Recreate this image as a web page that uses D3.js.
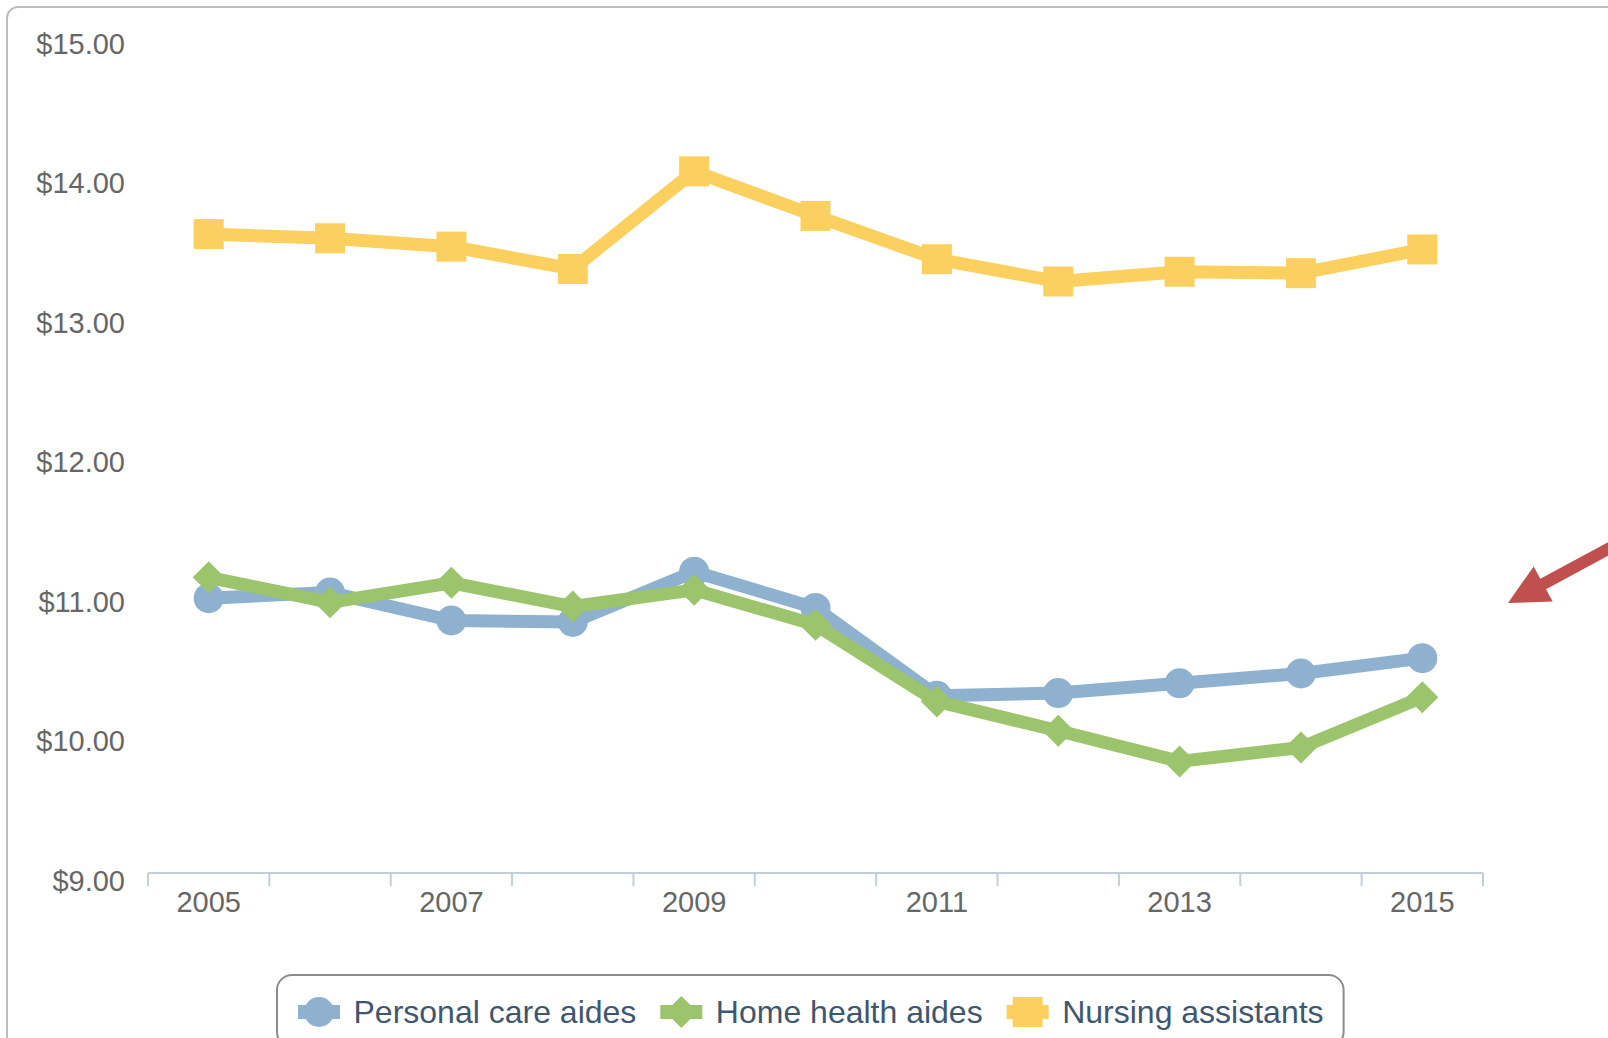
<!DOCTYPE html>
<html>
<head>
<meta charset="utf-8">
<script src="https://cdn.jsdelivr.net/npm/d3@7"></script>
<style>
  html, body { margin: 0; padding: 0; background: #ffffff; }
  svg { display: block; font-family: "Liberation Sans", Arial, sans-serif; }
</style>
</head>
<body>
<svg id="chart" width="1608" height="1038"></svg>
<script>
// Median hourly wages of direct care workers, 2005-2015
const years = [2005, 2006, 2007, 2008, 2009, 2010, 2011, 2012, 2013, 2014, 2015];
const personalCareAides = [10.97, 11.01, 10.81, 10.80, 11.16, 10.90, 10.27, 10.29, 10.36, 10.43, 10.54];
const homeHealthAides   = [11.12, 10.94, 11.08, 10.91, 11.03, 10.78, 10.23, 10.02, 9.80, 9.90, 10.26];
const nursingAssistants = [13.58, 13.55, 13.49, 13.33, 14.03, 13.71, 13.40, 13.24, 13.31, 13.30, 13.47];
const seriesNames = ["Personal care aides", "Home health aides", "Nursing assistants"];
const yTickValues = [9, 10, 11, 12, 13, 14, 15];
const xLabelYears = [2005, 2007, 2009, 2011, 2013, 2015];

const seriesColors = ["#8eb1d0", "#9cc46c", "#fcd05e"];
const seriesSymbols = ["circle", "diamond", "square"];
const seriesValues = [personalCareAides, homeHealthAides, nursingAssistants];

const series = seriesNames.map((name, i) => ({
  name,
  color: seriesColors[i],
  symbol: seriesSymbols[i],
  points: years.map((yr, j) => ({ year: yr, value: seriesValues[i][j] }))
}));

const svg = d3.select("#chart");

// outer frame (continues past the right and bottom edges)
svg.append("rect")
  .attr("x", 7).attr("y", 7)
  .attr("width", 1660).attr("height", 1100)
  .attr("rx", 11)
  .attr("fill", "#ffffff")
  .attr("stroke", "#bdbdbd")
  .attr("stroke-width", 2);

const plotLeft = 148, plotRight = 1483, plotTop = 36, plotBottom = 873;

const x = d3.scaleBand().domain(years).range([plotLeft, plotRight]);
const cx = yr => x(yr) + x.bandwidth() / 2;
const y = d3.scaleLinear().domain([9, 15]).range([plotBottom, plotTop]);

// y axis labels
const yAxis = d3.axisLeft(y)
  .tickValues(yTickValues)
  .tickSize(0)
  .tickPadding(0)
  .tickFormat(v => "$" + v.toFixed(2));
const yg = svg.append("g").attr("transform", "translate(125,0)").call(yAxis);
yg.select(".domain").remove();
yg.selectAll("text")
  .attr("fill", "#666666")
  .attr("font-size", 29)
  .attr("font-family", "'Liberation Sans', Arial, sans-serif")
  .attr("dy", "0.6em");

// x axis line, tick marks between categories, labels on alternate years
const xg = svg.append("g");
xg.append("line")
  .attr("x1", plotLeft).attr("x2", plotRight)
  .attr("y1", plotBottom).attr("y2", plotBottom)
  .attr("stroke", "#c3cedb").attr("stroke-width", 2);
const boundaries = years.map(yr => x(yr)).concat([x(years[years.length - 1]) + x.bandwidth()]);
xg.selectAll(".tickmark").data(boundaries).join("line")
  .attr("class", "tickmark")
  .attr("x1", d => d).attr("x2", d => d)
  .attr("y1", plotBottom).attr("y2", plotBottom + 13)
  .attr("stroke", "#c3cedb").attr("stroke-width", 2);

const xAxis = d3.axisBottom(x).tickValues(xLabelYears).tickSize(0).tickPadding(0);
const xa = svg.append("g").attr("transform", `translate(0,${plotBottom})`).call(xAxis);
xa.select(".domain").remove();
xa.selectAll("text")
  .attr("fill", "#666666")
  .attr("font-size", 29)
  .attr("font-family", "'Liberation Sans', Arial, sans-serif")
  .attr("dy", "1.35em");

// marker shapes
function symbolPath(type, px, py) {
  if (type === "circle") {
    const r = 15;
    return `M${px - r},${py}a${r},${r} 0 1,0 ${2 * r},0a${r},${r} 0 1,0 ${-2 * r},0Z`;
  }
  if (type === "square") {
    const h = 15;
    return `M${px - h},${py - h}H${px + h}V${py + h}H${px - h}Z`;
  }
  const r = 16;
  return `M${px},${py - r}L${px + r},${py}L${px},${py + r}L${px - r},${py}Z`;
}

const line = d3.line().x(d => cx(d.year)).y(d => y(d.value));

series.forEach(s => {
  const g = svg.append("g").attr("class", "series");
  g.append("path")
    .datum(s.points)
    .attr("d", line)
    .attr("fill", "none")
    .attr("stroke", s.color)
    .attr("stroke-width", 13)
    .attr("stroke-linejoin", "round")
    .attr("stroke-linecap", "round");
  g.selectAll(".marker").data(s.points).join("path")
    .attr("class", "marker")
    .attr("d", d => symbolPath(s.symbol, cx(d.year), y(d.value)))
    .attr("fill", s.color);
});

// legend
const legendX = 277, legendY = 975, legendMidY = 1012;
const legend = svg.append("g");
const legendBox = legend.append("rect")
  .attr("x", legendX).attr("y", legendY)
  .attr("height", 72).attr("rx", 15)
  .attr("fill", "#ffffff")
  .attr("stroke", "#8c8c8c")
  .attr("stroke-width", 2);

const itemGap = 24;
let cursor = legendX + 21;
series.forEach(s => {
  const item = legend.append("g");
  item.append("line")
    .attr("x1", cursor).attr("x2", cursor + 42)
    .attr("y1", legendMidY).attr("y2", legendMidY)
    .attr("stroke", s.color).attr("stroke-width", 14);
  item.append("path")
    .attr("d", symbolPath(s.symbol, cursor + 21, legendMidY))
    .attr("fill", s.color);
  const t = item.append("text")
    .attr("x", cursor + 55.5).attr("y", legendMidY)
    .attr("dy", "0.35em")
    .attr("font-size", 32)
    .attr("fill", "#3e576f")
    .text(s.name);
  cursor += 55.5 + t.node().getComputedTextLength() + itemGap;
});
legendBox.attr("width", cursor - itemGap + 20 - legendX);

// red callout arrow pointing at the right end of the lower lines
const tip = [1508, 603], dir = [0.88, -0.475];
const len = Math.hypot(dir[0], dir[1]);
const ux = dir[0] / len, uy = dir[1] / len, nx = -uy, ny = ux;
const headLen = 40, headHalf = 20, shaftHalf = 6, shaftLen = 160;
const bx = tip[0] + ux * headLen, by = tip[1] + uy * headLen;
const ex = tip[0] + ux * shaftLen, ey = tip[1] + uy * shaftLen;
const arrowPts = [
  tip,
  [bx + nx * headHalf, by + ny * headHalf],
  [bx + nx * shaftHalf, by + ny * shaftHalf],
  [ex + nx * shaftHalf, ey + ny * shaftHalf],
  [ex - nx * shaftHalf, ey - ny * shaftHalf],
  [bx - nx * shaftHalf, by - ny * shaftHalf],
  [bx - nx * headHalf, by - ny * headHalf]
];
svg.append("path")
  .attr("d", "M" + arrowPts.map(p => p.join(",")).join("L") + "Z")
  .attr("fill", "#c0504d");
</script>
</body>
</html>
